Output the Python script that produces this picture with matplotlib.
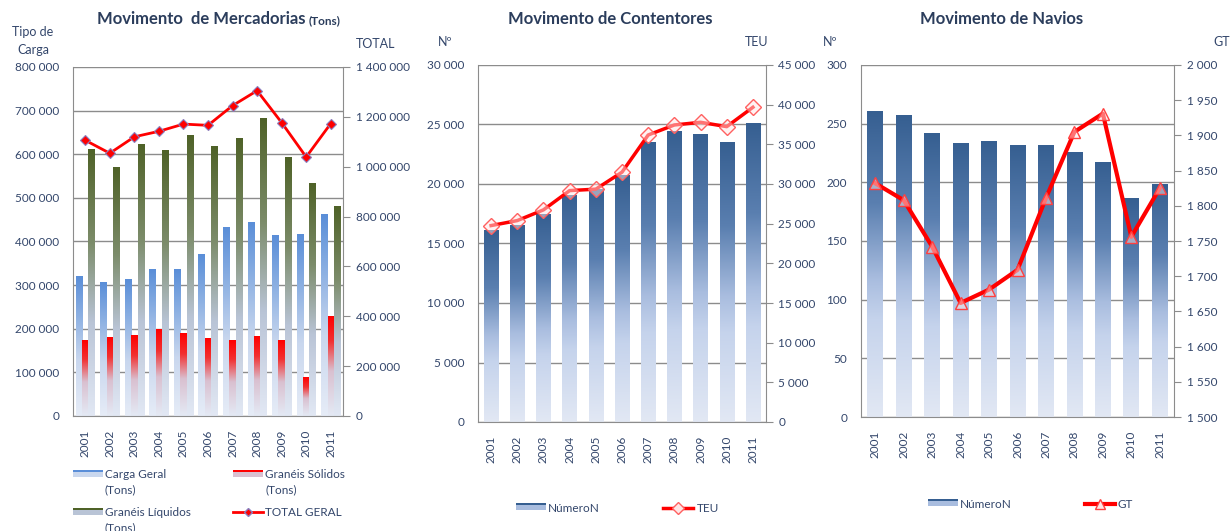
import numpy as np
import matplotlib
matplotlib.use('Agg')
import matplotlib.pyplot as plt
from matplotlib.colors import LinearSegmentedColormap
from matplotlib.ticker import MultipleLocator, FuncFormatter
from matplotlib.lines import Line2D
from matplotlib.patches import Rectangle

plt.rcParams['font.family'] = ['Lato', 'DejaVu Sans']

anos = ['2001', '2002', '2003', '2004', '2005', '2006', '2007', '2008', '2009', '2010', '2011']

# Movimento de Mercadorias (Tons)
carga_geral = [320000, 305000, 312000, 335000, 335000, 371000, 433000, 443000, 413000, 415000, 463000]
graneis_solidos = [172000, 180000, 185000, 199000, 190000, 177000, 174000, 182000, 172000, 89000, 229000]
graneis_liquidos = [612000, 569000, 623000, 608000, 644000, 618000, 636000, 681000, 592000, 534000, 481000]
total_geral = [1106000, 1054000, 1120000, 1142000, 1171000, 1166000, 1245000, 1305000, 1177000, 1039000, 1173000]

# Movimento de Contentores
contentores_num = [16100, 16500, 17400, 19000, 19500, 20750, 23500, 24450, 24150, 23500, 25100]
contentores_teu = [24760, 25390, 26740, 29170, 29350, 31490, 36180, 37440, 37780, 37230, 39670]

# Movimento de Navios
navios_num = [260, 257, 242, 233, 235, 231, 231, 225, 217, 186, 198]
navios_gt = [1832, 1808, 1742, 1662, 1681, 1709, 1811, 1905, 1931, 1756, 1825]

W, H = 1232, 531
TXT = '#33466b'
TITLE = '#2b3d5c'
GRID = '#8c8c8c'

fig = plt.figure(figsize=(W / 100, H / 100), dpi=100)


def px(x, y):
    return x / W, 1 - y / H


def add_axes(left, top, right, bottom):
    return fig.add_axes([left / W, 1 - bottom / H, (right - left) / W, (bottom - top) / H])


def gradient_bars(ax, x, vals, width, colors, stops):
    cmap = LinearSegmentedColormap.from_list('g', list(zip(stops, colors)))
    bars = ax.bar(x, vals, width, color='none', edgecolor='none', zorder=2)
    grad = np.linspace(0, 1, 256).reshape(-1, 1)
    for b in bars:
        ax.imshow(grad, extent=(b.get_x(), b.get_x() + b.get_width(), 0, b.get_height()),
                  aspect='auto', cmap=cmap, origin='upper', interpolation='bilinear', zorder=2)
    return bars


def espacos(v, pos=None):
    return f'{int(round(v)):,}'.replace(',', ' ')


def style(ax, ax2, ymax, ystep, y2min, y2max, y2step, fs=8.5):
    ax.set_xlim(-0.5, len(anos) - 0.5)
    ax.set_ylim(0, ymax)
    ax2.set_ylim(y2min, y2max)
    ax.yaxis.set_major_locator(MultipleLocator(ystep))
    ax2.yaxis.set_major_locator(MultipleLocator(y2step))
    ax.yaxis.set_major_formatter(FuncFormatter(espacos))
    ax2.yaxis.set_major_formatter(FuncFormatter(espacos))
    ax.set_xticks(range(len(anos)))
    ax.set_xticklabels(anos, rotation=90)
    ax.grid(axis='y', color=GRID, lw=1)
    ax.set_axisbelow(True)
    for a in (ax, ax2):
        for s in a.spines.values():
            s.set_color(GRID)
        a.spines['top'].set_visible(False)
    ax.spines['right'].set_visible(False)
    ax2.spines['left'].set_visible(False)
    ax2.spines['bottom'].set_visible(False)
    ax.tick_params(axis='y', length=0, pad=10, labelsize=fs, labelcolor=TXT)
    ax.tick_params(axis='x', length=0, pad=10, labelsize=fs, labelcolor=TXT)
    ax2.tick_params(axis='y', direction='out', length=5, color=GRID, pad=4, labelsize=fs, labelcolor=TXT)


def bar_swatch(x, y, top, light):
    fig.add_artist(Rectangle(px(x, y + 4), 30 / W, 7 / H, transform=fig.transFigure, facecolor=light, edgecolor='none'))
    fig.add_artist(Rectangle(px(x, y - 1), 30 / W, 2.5 / H, transform=fig.transFigure, facecolor=top, edgecolor='none'))


def line_swatch(x, y, marker, ms, mfc, mec, lw):
    xs = [px(x, y)[0], px(x + 30, y)[0]]
    fig.add_artist(Line2D(xs, [px(0, y)[1]] * 2, transform=fig.transFigure, color='red', lw=lw))
    fig.add_artist(Line2D([px(x + 15, y)[0]], [px(0, y)[1]], transform=fig.transFigure,
                          marker=marker, ms=ms, mfc=mfc, mec=mec, lw=0))


def legend_text(x, y, s):
    fig.text(*px(x, y), s, ha='left', va='center', fontsize=8.5, color=TXT, linespacing=1.45)


x = np.arange(len(anos))

# ---------------- Mercadorias ----------------
ax1 = add_axes(73, 67, 343, 416)
bw = 0.26
gradient_bars(ax1, x - bw, carga_geral, bw, ['#5a8ed8', '#8fb2e3', '#c9d7ee', '#e6ecf7'], [0, 0.3, 0.6, 1])
gradient_bars(ax1, x, graneis_solidos, bw, ['#ff0000', '#f23030', '#d9c0d0', '#e4eaf5'], [0, 0.25, 0.55, 1])
gradient_bars(ax1, x + bw, graneis_liquidos, bw, ['#4f6228', '#7c8c6a', '#b9c4d6', '#e2e8f4'], [0, 0.35, 0.65, 1])
ax1b = ax1.twinx()
ax1b.plot(x, total_geral, color='red', lw=2, marker='D', ms=5, mfc='red', mec='#8a7fc0', mew=0.8, zorder=5)
style(ax1, ax1b, 800000, 100000, 0, 1400000, 200000)

t1 = fig.text(*px(97, 19), 'Movimento  de Mercadorias', ha='left', va='center',
              fontsize=12, fontweight='bold', color=TITLE)
# "(Tons)" em letra menor, logo a seguir ao título
ax1.annotate('(Tons)', xy=(1, 0.5), xycoords=t1, xytext=(2, -1), textcoords='offset points',
             ha='left', va='center', fontsize=8.5, fontweight='bold', color=TITLE,
             annotation_clip=False)
fig.text(*px(33, 41), 'Tipo de\nCarga', ha='center', va='center', fontsize=9, color=TXT, linespacing=1.5)
fig.text(*px(376, 44), 'TOTAL', ha='center', va='center', fontsize=9, color=TXT)

bar_swatch(73, 473, '#5a8ed8', '#c9d7ee')
legend_text(105, 482, 'Carga Geral\n(Tons)')
bar_swatch(233, 473, '#ff0000', '#d9c0d0')
legend_text(265, 482, 'Granéis Sólidos\n(Tons)')
bar_swatch(73, 511, '#4f6228', '#b9c4d6')
legend_text(105, 520, 'Granéis Líquidos\n(Tons)')
line_swatch(233, 512, 'D', 4, 'red', '#8a7fc0', 2)
legend_text(265, 512, 'TOTAL GERAL')

# ---------------- Contentores ----------------
ax2 = add_axes(478, 65, 766, 422)
blue_cols = ['#365f91', '#5a7fb0', '#a9bddf', '#c5d3ec', '#e2e8f4']
blue_stops = [0, 0.3, 0.55, 0.68, 1]
gradient_bars(ax2, x, contentores_num, 0.55, blue_cols, blue_stops)
ax2b = ax2.twinx()
ax2b.plot(x, contentores_teu, color='red', lw=2.5, marker='D', ms=8, mfc=(1, 0.9, 0.9, 0.5),
          mec='#ff6060', mew=1, zorder=5)
style(ax2, ax2b, 30000, 5000, 0, 45000, 5000)

fig.text(*px(610, 19), 'Movimento de Contentores', ha='center', va='center',
         fontsize=12, fontweight='bold', color=TITLE)
fig.text(*px(445, 42), 'Nº', ha='center', va='center', fontsize=9, color=TXT)
fig.text(*px(757, 42), 'TEU', ha='center', va='center', fontsize=9, color=TXT)

bar_swatch(516, 506, '#365f91', '#a9bddf')
legend_text(548, 508, 'NúmeroN')
line_swatch(663, 508, 'D', 6, (1, 0.9, 0.9), '#ff6060', 2.5)
legend_text(697, 508, 'TEU')

# ---------------- Navios ----------------
ax3 = add_axes(861, 65, 1174, 417)
gradient_bars(ax3, x, navios_num, 0.55, blue_cols, blue_stops)
ax3b = ax3.twinx()
ax3b.plot(x, navios_gt, color='red', lw=3, marker='^', ms=9, mfc=(1, 0.9, 0.9, 0.5),
          mec='#ff4040', mew=1, zorder=5)
style(ax3, ax3b, 300, 50, 1500, 2000, 50)

fig.text(*px(1002, 19), 'Movimento de Navios', ha='center', va='center',
         fontsize=12, fontweight='bold', color=TITLE)
fig.text(*px(830, 42), 'Nº', ha='center', va='center', fontsize=9, color=TXT)
fig.text(*px(1222, 42), 'GT', ha='center', va='center', fontsize=9, color=TXT)

bar_swatch(928, 502, '#365f91', '#a9bddf')
legend_text(960, 504, 'NúmeroN')
line_swatch(1085, 504, '^', 7, (1, 0.9, 0.9), '#ff4040', 3)
legend_text(1118, 504, 'GT')

fig.savefig('out.png', dpi=100)
